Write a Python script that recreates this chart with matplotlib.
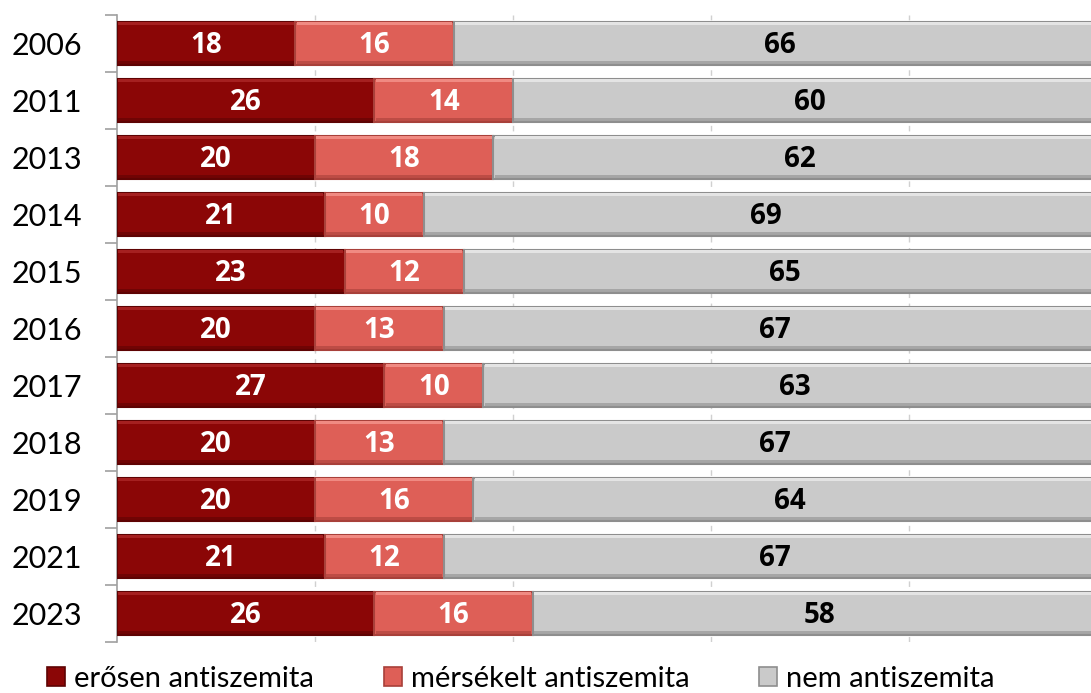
import matplotlib.pyplot as plt
import numpy as np
from matplotlib.patches import Patch

plt.rcParams['font.family'] = ['Lato', 'DejaVu Sans']

years = ['2006', '2011', '2013', '2014', '2015', '2016', '2017', '2018', '2019', '2021', '2023']
strong = [18, 26, 20, 21, 23, 20, 27, 20, 20, 21, 26]
moderate = [16, 14, 18, 10, 12, 13, 10, 13, 16, 12, 16]
non = [66, 60, 62, 69, 65, 67, 63, 67, 64, 67, 58]
series_names = ['erősen antiszemita', 'mérsékelt antiszemita', 'nem antiszemita']

colors = ['#8B0606', '#DE5F57', '#CACACA']
edges = ['#5E0303', '#A8403A', '#8E8E8E']
highlights = ['#A52020', '#F08A82', '#E4E4E4']
text_colors = ['white', 'white', 'black']

fig = plt.figure(figsize=(10.91, 6.93), dpi=100)
ax = fig.add_axes([117 / 1091, 1 - 642 / 693, 974 / 1091, 627 / 693])

y = np.arange(len(years))
h = 0.77
left = np.zeros(len(years))
for vals, c, ec, hc, tc in zip([strong, moderate, non], colors, edges, highlights, text_colors):
    vals = np.array(vals, dtype=float)
    ax.barh(y, vals, left=left, height=h, color=c, edgecolor=ec, linewidth=1.5, zorder=3)
    # thin bevel strips
    ax.barh(y - h / 2 + 0.04, vals - 0.3, left=left + 0.15, height=0.05, color=hc,
            linewidth=0, zorder=4)
    ax.barh(y + h / 2 - 0.05, vals - 0.3, left=left + 0.15, height=0.06, color=ec,
            linewidth=0, alpha=0.6, zorder=4)
    for yi, l, v in zip(y, left, vals):
        ax.text(l + v / 2, yi + 0.04, f'{int(v)}', ha='center', va='center', color=tc,
                fontsize=20, fontweight='bold', family=['Open Sans', 'DejaVu Sans'], zorder=5)
    left = left + vals

ax.set_xlim(0, 974 / 9.9)
ax.set_ylim(len(years) - 0.5, -0.5)
ax.set_xticks([20, 40, 60, 80])
ax.xaxis.grid(True, color='#D0D0D0', linestyle=(0, (4, 4)), linewidth=1, zorder=0)
ax.tick_params(axis='x', length=0, labelbottom=False)

ax.set_yticks(y)
ax.set_yticklabels(years, fontsize=22)
ax.set_yticks(np.arange(len(years) + 1) - 0.5, minor=True)
ax.tick_params(axis='y', which='major', length=0, pad=25)
ax.tick_params(axis='y', which='minor', length=9, color='#A0A0A0', width=1.2)

for s in ['top', 'right', 'bottom']:
    ax.spines[s].set_visible(False)
ax.spines['left'].set_color('#A0A0A0')
ax.spines['left'].set_linewidth(1.2)

handles = [Patch(facecolor=c, edgecolor=ec, linewidth=1.2) for c, ec in zip(colors, edges)]
fig.legend(handles, series_names, loc='lower left', bbox_to_anchor=(47 / 1091, 0.002),
           ncol=3, frameon=False, fontsize=21, handlelength=0.62, handleheight=0.62,
           handletextpad=0.3, columnspacing=2.4, borderpad=0, borderaxespad=0)

fig.savefig('out.png', dpi=100)
